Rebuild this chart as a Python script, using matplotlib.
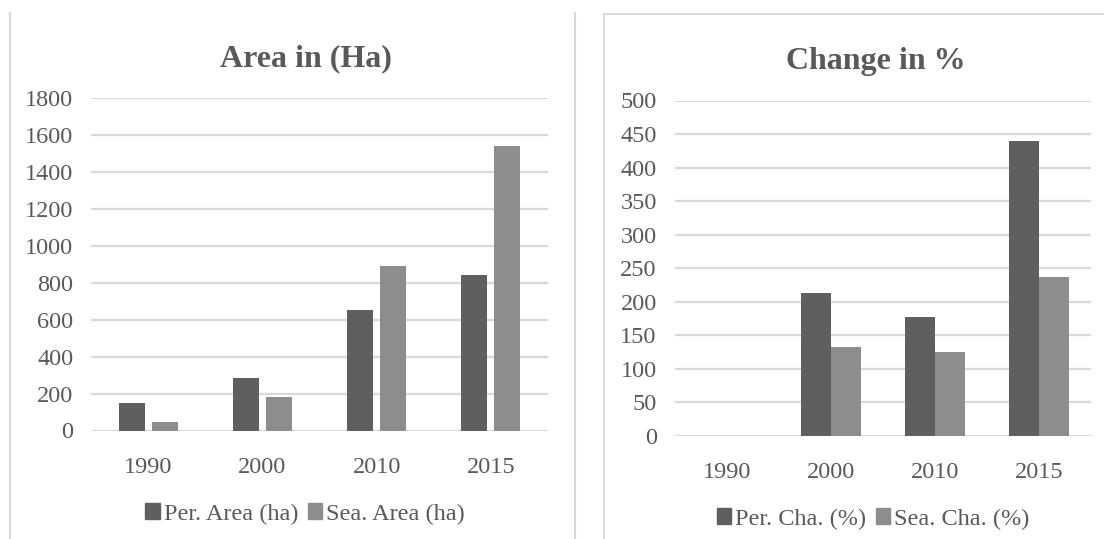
import numpy as np
import matplotlib
matplotlib.use("Agg")
import matplotlib.pyplot as plt
from matplotlib.lines import Line2D
from matplotlib.patches import Patch

years = ["1990", "2000", "2010", "2015"]
per_area = [148, 283, 652, 841]
sea_area = [45, 181, 890, 1540]
per_change = [0, 213, 177, 440]
sea_change = [0, 132, 125, 237]

dark = "#5f5f5f"
light = "#8d8d8d"
grid_c = "#d9d9d9"
text_c = "#595959"

plt.rcParams["font.family"] = ["Liberation Serif", "DejaVu Serif"]

fig = plt.figure(figsize=(11.04, 5.39), dpi=100)
W, H = 1104, 539


def px_ax(x0, x1, y_top, y_bot):
    return fig.add_axes([x0 / W, 1 - y_bot / H, (x1 - x0) / W, (y_bot - y_top) / H])


def style(ax, ymax, step):
    ax.set_ylim(0, ymax)
    ax.set_xlim(-0.5, len(years) - 0.5)
    ax.set_yticks(np.arange(0, ymax + 1, step))
    ax.yaxis.grid(True, color=grid_c, linewidth=1.6)
    ax.set_axisbelow(True)
    for s in ax.spines.values():
        s.set_visible(False)
    ax.tick_params(axis="both", length=0, labelsize=17.5, colors=text_c)
    ax.tick_params(axis="x", pad=19)
    ax.tick_params(axis="y", pad=12.8)
    ax.set_xticks(range(len(years)))
    ax.set_xticklabels(years)


x = np.arange(len(years))

# area chart
ax1 = px_ax(91, 548, 98, 430.5)
bw = 0.228
ax1.bar(x - 0.0305 - bw / 2, per_area, bw, color=dark)
ax1.bar(x + 0.0305 + bw / 2, sea_area, bw, color=light)
style(ax1, 1800, 200)
fig.text(306 / W, 1 - 59 / H, "Area in (Ha)", ha="center", va="center",
         fontsize=23, fontweight="bold", color=text_c)

# change chart
ax2 = px_ax(674.5, 1091, 100.5, 436)
bw2 = 0.288
ax2.bar(x - bw2 / 2, per_change, bw2, color=dark)
ax2.bar(x + bw2 / 2, sea_change, bw2, color=light)
style(ax2, 500, 50)
fig.text(876 / W, 1 - 61 / H, "Change in %", ha="center", va="center",
         fontsize=23, fontweight="bold", color=text_c)

# legends
for cx, cy, labels in [(305, 514, ["Per. Area (ha)", "Sea. Area (ha)"]),
                       (873, 519, ["Per. Cha. (%)", "Sea. Cha. (%)"])]:
    handles = [Patch(color=dark), Patch(color=light)]
    leg = fig.legend(handles, labels, loc="center", bbox_to_anchor=(cx / W, 1 - cy / H),
                     ncol=2, frameon=False, fontsize=17.5, handlelength=0.6,
                     handleheight=0.6, handletextpad=0.15, columnspacing=0.4,
                     borderpad=0)
    for t in leg.get_texts():
        t.set_color(text_c)

# chart frames
def fline(xs, ys):
    fig.add_artist(Line2D([v / W for v in xs], [1 - v / H for v in ys],
                          color=grid_c, linewidth=1.5))

fline([10, 10], [13, 539])
fline([575, 575], [13, 539])
fline([604, 604, 1104], [539, 14, 14])

fig.savefig("out.png", dpi=100, facecolor="white")
